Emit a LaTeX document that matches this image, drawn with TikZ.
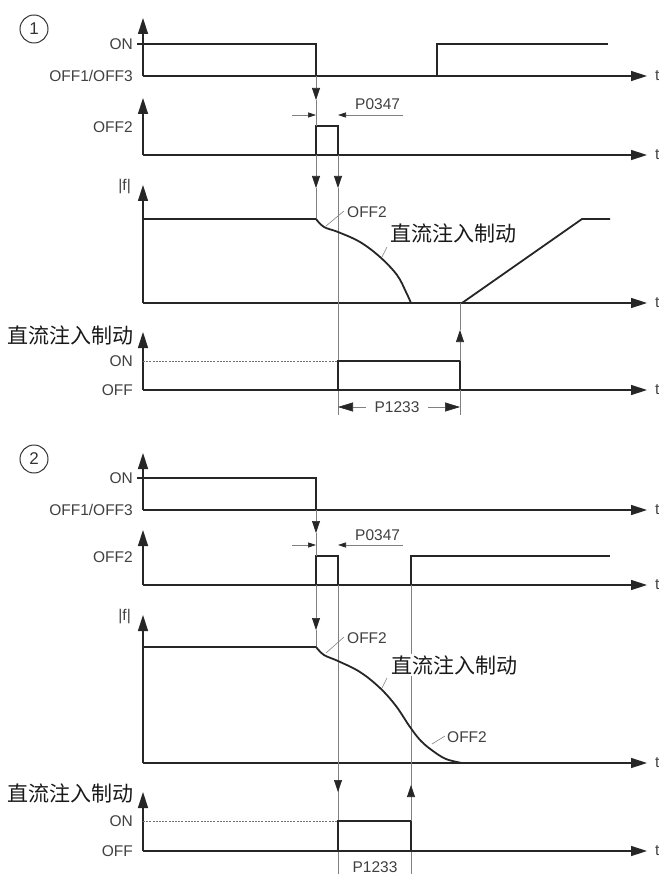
\documentclass[tikz,border=0pt]{standalone}
\usepackage{fontspec}
\setmainfont{Liberation Sans}
\newfontfamily\cjk{Noto Sans CJK SC}
\usetikzlibrary{arrows.meta}
\begin{document}
\begin{tikzpicture}[x=1pt,y=-1pt,
  sig/.style={line width=1.8pt, draw=black!85, line join=miter},
  axis/.style={line width=1.4pt, draw=black!85, -{Triangle[length=16pt,width=10pt]}},
  guide/.style={line width=0.6pt, draw=black!50},
  dashguide/.style={line width=0.7pt, draw=black!55, dash pattern=on 2pt off 1.2pt},
  smallarr/.style={guide, -{Triangle[length=12pt,width=8pt,color=black!85]}},
  tinyarr/.style={guide, -{Triangle[length=8pt,width=5pt,color=black!85]}},
  dimarr/.style={guide, -{Triangle[length=15pt,width=9pt,color=black!85]}},
  lbl/.style={font=\fontsize{15.5}{16}\selectfont, text=black!75, inner sep=0pt},
  cn/.style={font=\cjk\fontsize{21}{23}\selectfont, text=black!90, inner sep=1pt},
  num/.style={circle, draw=black!80, line width=1pt, minimum size=28pt, inner sep=0pt, font=\fontsize{17}{17}\selectfont, text=black!80}
]
\useasboundingbox (0,0) rectangle (658,874);

% ================= Panel 1 =================
\node[num] (n1) at (34,29) {1};

% ON / OFF1/OFF3
\draw[axis] (143,76) -- (143,18);
\draw[axis] (143,76) -- (647,76);
\draw[sig] (137,44) -- (316,44) -- (316,76);
\draw[sig] (437,76) -- (437,44) -- (608,44);
\node[lbl, anchor=east] (on1) at (133,44) {ON};
\node[lbl, anchor=east] (off13a) at (133,76) {OFF1/OFF3};
\node[lbl, anchor=west] (t1) at (655,76) {t};

% OFF2
\draw[axis] (143,155) -- (143,98);
\draw[axis] (143,155) -- (647,155);
\draw[sig] (316,155) -- (316,126) -- (338,126) -- (338,155);
\node[lbl, anchor=east] (off2a) at (133,127) {OFF2};
\node[lbl, anchor=west] (t2) at (655,155) {t};
\draw[smallarr] (316,76) -- (316,100);
\draw[guide] (316,100) -- (316,126);
\draw[tinyarr] (292,115) -- (316,115);
\draw[tinyarr] (403,115) -- (338,115);
\node[lbl, anchor=base west] (p0347a) at (355,110) {P0347};

% |f|
\draw[axis] (143,303) -- (143,185);
\draw[axis] (143,303) -- (647,303);
\node[lbl, anchor=east] (fa) at (131,187) {|f|};
\node[lbl, anchor=west] (t3) at (655,303) {t};
\draw[smallarr] (316,155) -- (316,188);
\draw[guide] (316,188) -- (316,219);
\draw[smallarr] (338,155) -- (338,188);
\draw[guide] (338,188) -- (338,415);
\draw[sig] (143,219) -- (316,219);
\draw[sig] plot[smooth, tension=0.6] coordinates {(316,219) (324,227) (338,232) (360,242) (380,257) (397,275) (406,292) (411,303)};
\draw[sig] (411,303) -- (462,303) -- (582,219) -- (610,219);
\draw[guide] (326,226) -- (344,211);
\node[lbl, anchor=west] (off2b) at (347,212) {OFF2};
\draw[guide] (382,257) -- (387,247);
\node[cn, anchor=west, fill=white] (dc1) at (389,233) {直流注入制动};

% DC brake 1
\node[cn, anchor=west] (dcl1) at (6,335) {直流注入制动};
\draw[axis] (143,390) -- (143,332);
\draw[axis] (143,390) -- (647,390);
\draw[dashguide] (143,361) -- (338,361);
\draw[sig] (338,390) -- (338,361) -- (460,361) -- (460,390);
\node[lbl, anchor=east] (on2) at (133,361) {ON};
\node[lbl, anchor=east] (off1) at (133,390) {OFF};
\node[lbl, anchor=west] (t4) at (655,390) {t};
\draw[smallarr] (460,361) -- (460,330);
\draw[guide] (460,330) -- (460,303);
\draw[guide] (460,390) -- (460,415);
\draw[dimarr] (366,407) -- (338,407);
\draw[dimarr] (428,407) -- (460,407);
\node[lbl] (p1233a) at (397,407) {P1233};

% ================= Panel 2 =================
\node[num] (n2) at (34,459) {2};

\draw[axis] (143,510) -- (143,453);
\draw[axis] (143,510) -- (647,510);
\draw[sig] (137,478) -- (316,478) -- (316,510);
\node[lbl, anchor=east] (on3) at (133,478) {ON};
\node[lbl, anchor=east] (off13b) at (133,510) {OFF1/OFF3};
\node[lbl, anchor=west] (t5) at (655,510) {t};

% OFF2
\draw[axis] (143,585) -- (143,530);
\draw[axis] (143,585) -- (647,585);
\draw[sig] (316,585) -- (316,556) -- (338,556) -- (338,585);
\draw[sig] (411,585) -- (411,556) -- (610,556);
\node[lbl, anchor=east] (off2c) at (133,557) {OFF2};
\node[lbl, anchor=west] (t6) at (655,585) {t};
\draw[smallarr] (316,510) -- (316,533);
\draw[guide] (316,533) -- (316,556);
\draw[tinyarr] (292,545) -- (316,545);
\draw[tinyarr] (403,545) -- (338,545);
\node[lbl, anchor=base west] (p0347b) at (355,540) {P0347};

% |f|
\draw[axis] (143,763) -- (143,615);
\draw[axis] (143,763) -- (647,763);
\node[lbl, anchor=east] (fb) at (131,617) {|f|};
\node[lbl, anchor=west] (t7) at (655,763) {t};
\draw[smallarr] (316,585) -- (316,630);
\draw[guide] (316,630) -- (316,647);
\draw[guide] (338,585) -- (338,874);
\draw[guide] (411,585) -- (411,874);
\draw[sig] (143,647) -- (316,647);
\draw[sig] plot[smooth, tension=0.6] coordinates {(316,647) (324,655) (338,661) (360,672) (380,688) (396,706) (410,727) (421,741) (433,751) (446,759) (462,763)};
\draw[guide] (326,653) -- (344,637);
\node[lbl, anchor=west] (off2d) at (347,638) {OFF2};
\draw[guide] (382,688) -- (387,678);
\node[cn, anchor=west, fill=white] (dc2) at (390,665) {直流注入制动};
\draw[guide] (432,744) -- (445,736);
\node[lbl, anchor=west] (off2e) at (447,737) {OFF2};

% DC brake 2
\node[cn, anchor=west] (dcl2) at (6,793) {直流注入制动};
\draw[axis] (143,851) -- (143,792);
\draw[axis] (143,851) -- (647,851);
\draw[dashguide] (143,821) -- (338,821);
\draw[sig] (338,851) -- (338,821) -- (411,821) -- (411,851);
\node[lbl, anchor=east] (on4) at (133,821) {ON};
\node[lbl, anchor=east] (off3) at (133,851) {OFF};
\node[lbl, anchor=west] (t8) at (655,851) {t};
\draw[smallarr] (338,770) -- (338,792);
\draw[smallarr] (411,821) -- (411,785);
\node[lbl] (p1233b) at (375,867) {P1233};
\end{tikzpicture}
\end{document}
